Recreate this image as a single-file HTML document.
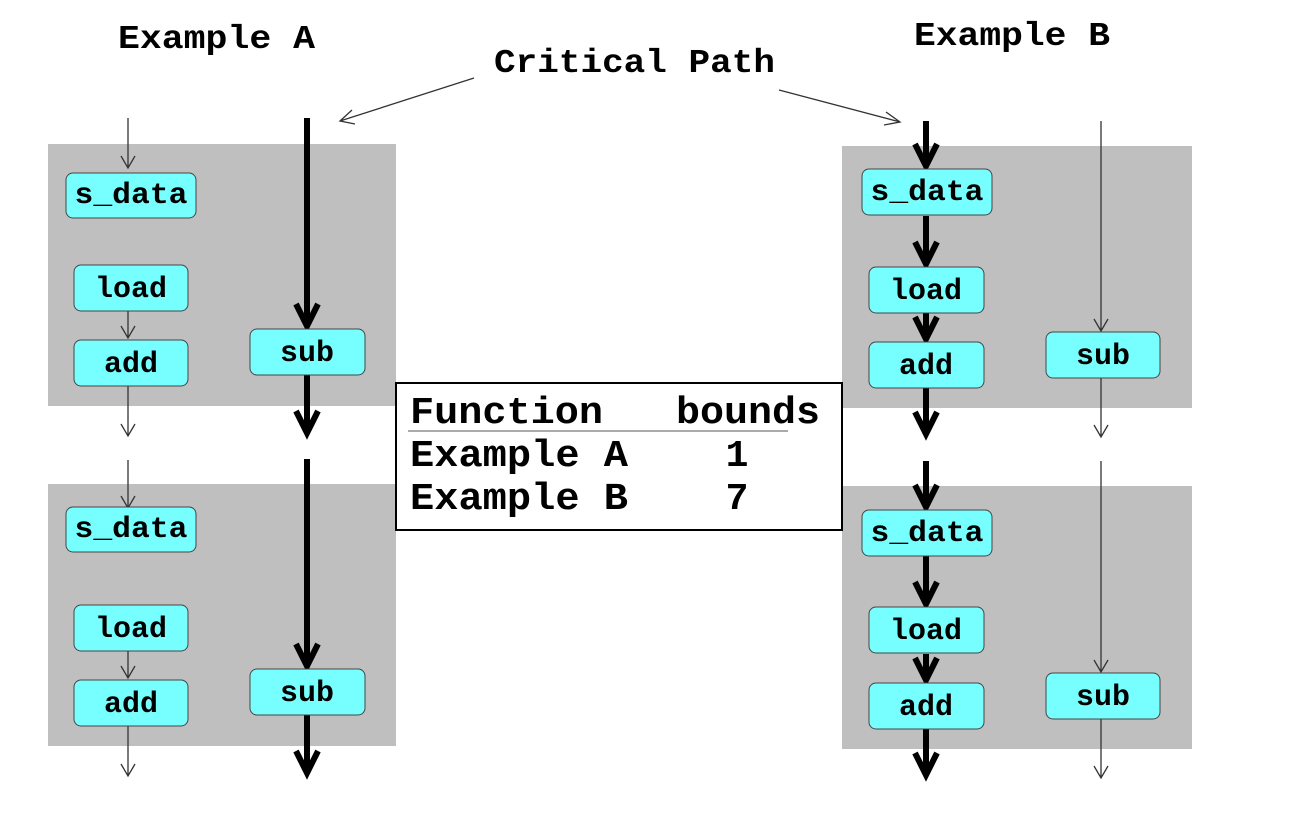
<!DOCTYPE html>
<html><head><style>body{margin:0;background:#fff}svg{display:block}</style></head><body>
<svg width="1308" height="816" xmlns="http://www.w3.org/2000/svg" font-family="Liberation Mono, monospace" font-weight="bold">
<defs>
<style>
.n{fill:#77ffff;stroke:#444;stroke-width:1}
.t{font-size:30px;text-anchor:middle;fill:#000}
.thin{stroke:#333;stroke-width:1.3;fill:none}
.thick{stroke:#000;stroke-width:6;fill:none}
</style>
</defs>
<rect x="48" y="144" width="348" height="262" fill="#bfbfbf"/>
<rect x="48" y="484" width="348" height="262" fill="#bfbfbf"/>
<rect x="842" y="146" width="350" height="262" fill="#bfbfbf"/>
<rect x="842" y="486" width="350" height="263" fill="#bfbfbf"/>

<text x="118" y="48" font-size="33" textLength="197" lengthAdjust="spacingAndGlyphs">Example A</text>
<text x="914" y="45" font-size="33" textLength="196" lengthAdjust="spacingAndGlyphs">Example B</text>
<text x="494" y="72" font-size="33" textLength="281" lengthAdjust="spacingAndGlyphs">Critical Path</text>
<path class="thin" d="M474 78 L340 121 M352 110 L340 121 L355 124"/>
<path class="thin" d="M779 90 L900 122 M886 112 L900 122 L884 125"/>

<g class="thin">
<path d="M128 118 V168 M121 156 L128 168 L135 156"/>
<path d="M128 311 V338 M121 326 L128 338 L135 326"/>
<path d="M128 386 V436 M121 424 L128 436 L135 424"/>
<path d="M128 460 V508 M121 496 L128 508 L135 496"/>
<path d="M128 651 V678 M121 666 L128 678 L135 666"/>
<path d="M128 726 V776 M121 764 L128 776 L135 764"/>
</g>
<g class="thick">
<path d="M307 118 V326 M296 304 L307 326 L318 304"/>
<path d="M307 375 V433 M296 411 L307 433 L318 411"/>
<path d="M307 459 V666 M296 644 L307 666 L318 644"/>
<path d="M307 715 V773 M296 751 L307 773 L318 751"/>
</g>
<g class="thick">
<path d="M926 121 V166 M915 144 L926 166 L937 144"/>
<path d="M926 216 V264 M915 242 L926 264 L937 242"/>
<path d="M926 313 V339 M915 317 L926 339 L937 317"/>
<path d="M926 388 V434 M915 412 L926 434 L937 412"/>
<path d="M926 461 V507 M915 485 L926 507 L937 485"/>
<path d="M926 556 V604 M915 582 L926 604 L937 582"/>
<path d="M926 654 V680 M915 658 L926 680 L937 658"/>
<path d="M926 729 V775 M915 753 L926 775 L937 753"/>
</g>
<g class="thin">
<path d="M1101 121 V331 M1094 319 L1101 331 L1108 319"/>
<path d="M1101 378 V437 M1094 425 L1101 437 L1108 425"/>
<path d="M1101 461 V672 M1094 660 L1101 672 L1108 660"/>
<path d="M1101 719 V778 M1094 766 L1101 778 L1108 766"/>
</g>

<g>
<rect class="n" x="66" y="173" width="130" height="45" rx="7"/><text class="t" x="131" y="203" textLength="113" lengthAdjust="spacingAndGlyphs">s_data</text>
<rect class="n" x="74" y="265" width="114" height="46" rx="7"/><text class="t" x="131" y="297">load</text>
<rect class="n" x="74" y="340" width="114" height="46" rx="7"/><text class="t" x="131" y="372">add</text>
<rect class="n" x="250" y="329" width="115" height="46" rx="7"/><text class="t" x="307" y="361">sub</text>
<rect class="n" x="66" y="507" width="130" height="45" rx="7"/><text class="t" x="131" y="537" textLength="113" lengthAdjust="spacingAndGlyphs">s_data</text>
<rect class="n" x="74" y="605" width="114" height="46" rx="7"/><text class="t" x="131" y="637">load</text>
<rect class="n" x="74" y="680" width="114" height="46" rx="7"/><text class="t" x="131" y="712">add</text>
<rect class="n" x="250" y="669" width="115" height="46" rx="7"/><text class="t" x="307" y="701">sub</text>
</g>
<g>
<rect class="n" x="862" y="169" width="130" height="46" rx="7"/><text class="t" x="927" y="200" textLength="113" lengthAdjust="spacingAndGlyphs">s_data</text>
<rect class="n" x="869" y="267" width="115" height="46" rx="7"/><text class="t" x="926" y="299">load</text>
<rect class="n" x="869" y="342" width="115" height="46" rx="7"/><text class="t" x="926" y="374">add</text>
<rect class="n" x="1046" y="332" width="114" height="46" rx="7"/><text class="t" x="1103" y="364">sub</text>
<rect class="n" x="862" y="510" width="130" height="46" rx="7"/><text class="t" x="927" y="541" textLength="113" lengthAdjust="spacingAndGlyphs">s_data</text>
<rect class="n" x="869" y="607" width="115" height="46" rx="7"/><text class="t" x="926" y="639">load</text>
<rect class="n" x="869" y="683" width="115" height="46" rx="7"/><text class="t" x="926" y="715">add</text>
<rect class="n" x="1046" y="673" width="114" height="46" rx="7"/><text class="t" x="1103" y="705">sub</text>
</g>

<rect x="396" y="383" width="446" height="147" fill="#fff" stroke="#000" stroke-width="2"/>
<g font-size="38">
<text x="410" y="423" textLength="193" lengthAdjust="spacingAndGlyphs">Function</text>
<text x="676" y="423" textLength="144" lengthAdjust="spacingAndGlyphs">bounds</text>
<text x="410" y="466" textLength="218" lengthAdjust="spacingAndGlyphs">Example A</text>
<text x="737" y="466" text-anchor="middle">1</text>
<text x="410" y="509" textLength="218" lengthAdjust="spacingAndGlyphs">Example B</text>
<text x="737" y="509" text-anchor="middle">7</text>
</g>
<line x1="408" y1="431" x2="788" y2="431" stroke="#555" stroke-width="1"/>
</svg>
</body></html>
